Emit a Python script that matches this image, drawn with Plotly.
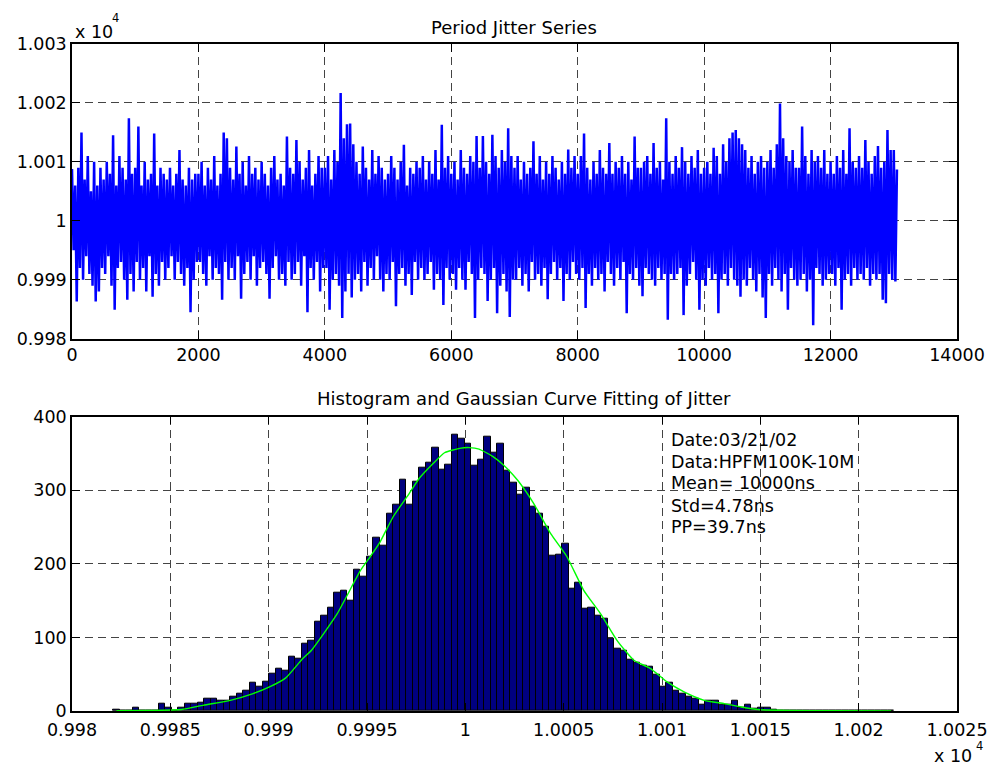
import plotly.graph_objects as go

# ---------------- data ----------------
NOMINAL_NS = 10000.0
SAMPLE_STEP = 25
# period deviation (ns) from nominal (alternating peaks/troughs)
jitter_dev_ns = [
    8.8, -5, 6, -13.7, 9, -8, 15, -10, 7, -6, 11, -9, 5, -11, 10, -13.7, 6, -12, 9, -8,
    7, -9, 10, -6, 8, -11, 14.5, -15.1, 6, -8, 11, -7, 9, -10, 7, -13.4, 17.4, -9, 8, -12,
    9, -7, 16, -10, 6, -8, 10, -12, 7, -6, 8, -12.9, 14.8, -9, 6, -11, 9, -7, 8, -10,
    7, -8, 9, -6, 6, -10, 8, -7, 12, -9, 7, -11, 6, -8, 9, -15.5, 7, -10, 8, -7,
    8, -7, 10, -9, 6, -11, 9, -6, 7, -10, 11, -8, 6, -9, 8, -13.4, 15, -7, 14, -10,
    9, -8, 7, -10, 12.6, -6, 8, -13.2, 10, -9, 6, -7, 11, -10, 8, -6, 9, -11, 7, -8,
    10, -7, 8, -9, 6, -13.2, 9, -8, 11, -6, 7, -10, 8, -9, 6, -11, 14.3, -7, 9, -10,
    8, -9, 13.7, -7, 10, -11, 7, -6, 9, -15.5, 12, -8, 6, -10, 8, -7, 11, -12, 9, -8,
    9, -8, 11, -15.1, 7, -10, 12, -9, 10, -11, 21.7, -16.5, 14, -12, 16.4, -9, 16.5, -13, 13, -10,
    10, -9, 8, -12, 12.6, -7, 9, -11, 7, -8, 12, -10, 8, -6, 11, -10, 9, -12, 7, -9,
    8, -10, 11, -7, 9, -14.5, 7, -9, 10, -8, 12.9, -11, 6, -9, 9, -12.6, 8, -7, 10, -10,
    9, -8, 11, -10, 7, -9, 10, -7, 8, -11.7, 12, -9, 7, -10, 16.3, -14.3, 9, -8, 11, -10,
    8, -9, 10, -11.7, 7, -8, 12, -10, 9, -11.7, 8, -7, 11, -9, 10, -16.5, 14.4, -10, 9, -8,
    14.4, -9, 10, -13.6, 8, -10, 14.6, -8, 11, -15.7, 9, -11, 12, -9, 10, -12, 15.7, -16.3, 11, -10,
    9, -10, 11, -8, 7, -11, 10, -9, 8, -12, 9, -7, 13.5, -10, 8, -9, 11, -11, 7, -8,
    10, -13.3, 8, -9, 11, -7, 9, -10, 7, -8, 10, -13.6, 8, -9, 12.1, -10, 9, -7, 11, -9,
    8, -10, 11, -8, 14.8, -14.8, 9, -9, 7, -11, 10, -8, 8, -10, 12, -9, 9, -12, 8, -7,
    13.2, -9, 8, -11, 10, -8, 9, -10, 11, -7, 8, -15.7, 10, -9, 7, -10, 14.3, -8, 9, -11,
    9, -12.8, 10, -8, 11, -9, 8, -10, 13.2, -11, 9, -8, 10, -10, 7, -9, 17.4, -16.8, 10, -9,
    8, -10, 11, -9, 9, -8, 12.5, -16, 10, -11, 8, -9, 11, -7, 9, -10, 12, -15.1, 8, -10,
    9, -11, 10, -8, 8, -10, 12.4, -9, 11, -15.7, 8, -10, 13, -9, 10, -11, 14, -8, 15, -10,
    15.4, -11, 14, -12.9, 13, -10, 12, -11, 9, -8, 11, -10, 8, -12, 10, -9, 11, -13, 9, -16.5,
    10, -9, 12, -11, 9, -8, 13, -10, 19.9, -12, 14, -9, 11, -15.1, 10, -8, 12, -10, 9, -11,
    9, -10, 16, -9, 11, -12, 8, -10, 12, -17.7, 10, -8, 11, -9, 9, -11, 12, -10, 8, -9,
    10, -9, 8, -11, 11, -8, 9, -15.1, 12, -10, 8, -9, 15.7, -11, 10, -8, 9, -10, 11, -9,
    9, -10, 13.7, -8, 10, -11, 8, -9, 11, -10, 12.7, -9, 9, -13.4, 10, -14, 15.4, -9, 12, -10,
    12, -10.3, 8.7,
]
period_ns = [NOMINAL_NS + d for d in jitter_dev_ns]
sample_idx = [i * SAMPLE_STEP for i in range(len(period_ns))]

# histogram (120 bins)
HIST_START_NS = 9982.09
HIST_BIN_NS = 0.331
hist_counts = [
    2, 0, 1, 5, 1, 1, 1, 10, 5, 1, 5, 10, 10, 11, 17, 17, 14, 14, 19, 24,
    28, 39, 33, 40, 51, 58, 55, 74, 71, 92, 95, 121, 129, 141, 161, 164, 150, 192, 183, 210,
    236, 224, 268, 280, 315, 280, 312, 331, 338, 358, 328, 335, 375, 370, 363, 333, 342, 373, 351, 363,
    326, 310, 294, 303, 278, 268, 250, 211, 213, 227, 166, 174, 139, 141, 130, 125, 98, 85, 82, 70,
    65, 61, 60, 49, 33, 39, 27, 24, 20, 17, 9, 14, 14, 9, 9, 14, 5, 9, 3, 5,
    5, 2, 1, 1, 0, 1, 0, 1, 0, 0, 1, 0, 0, 0, 0, 0, 0, 0, 0, 1,
]
bin_centers = [HIST_START_NS + HIST_BIN_NS * (i + 0.5) for i in range(len(hist_counts))]

# Gaussian fit curve
fit_x_ns = [9982.26, 9983.91, 9985.57, 9986.70, 9988.05, 9989.21, 9990.07, 9990.87, 9991.69, 9992.19,
            9993.48, 9994.67, 9995.17, 9995.67, 9996.33, 9997.16, 9997.65, 9998.35, 9998.94, 9999.71,
            10000.20, 10000.70, 10001.39, 10001.95, 10002.65, 10003.48, 10004.34, 10005.16, 10006.02,
            10006.88, 10007.71, 10008.57, 10009.40, 10010.26, 10011.12, 10012.15, 10013.17, 10014.03,
            10014.89, 10016.35, 10018.67, 10021.65]
fit_counts = [0.3, 0.8, 2, 8, 14.5, 23.6, 33, 45, 70, 83,
              132, 191, 210, 230, 264, 296, 316, 336, 351, 357,
              358, 356, 346, 334, 314, 282, 241, 210, 164,
              132, 96, 69, 58, 39.5, 26, 14.5, 10, 5.5,
              2, 0.8, 0.3, 0.1]

top_xticks = [0, 2000, 4000, 6000, 8000, 10000, 12000, 14000]
top_yticks = [9980, 9990, 10000, 10010, 10020, 10030]
top_ytext = ["0.998", "0.999", "1", "1.001", "1.002", "1.003"]
bot_xticks = [9980, 9985, 9990, 9995, 10000, 10005, 10010, 10015, 10020, 10025]
bot_xtext = ["0.998", "0.9985", "0.999", "0.9995", "1", "1.0005", "1.001", "1.0015", "1.002", "1.0025"]
bot_yticks = [0, 100, 200, 300, 400]
info_lines = ["Date:03/21/02", "Data:HPFM100K-10M", "Mean= 10000ns", "Std=4.78ns", "PP=39.7ns"]
title_top = "Period Jitter Series"
title_bot = "Histogram and Gaussian Curve Fitting of Jitter"

# ---------------- figure ----------------
FONT = "DejaVu Sans"
FS = 17.5
W, H = 1001, 772
ML, MR, MT, MB = 72, 44, 44, 61
PW, PH = W - ML - MR, H - MT - MB


def px_x(px):
    return (px - ML) / PW


def px_y(py):
    return (H - MB - py) / PH


fig = go.Figure()
fig.add_trace(go.Scatter(x=sample_idx, y=period_ns, mode="lines",
                         line=dict(color="#0000ff", width=2.5), xaxis="x", yaxis="y",
                         showlegend=False, hoverinfo="skip"))
fig.add_trace(go.Bar(x=bin_centers, y=hist_counts, width=HIST_BIN_NS,
                     marker=dict(color="#000080", line=dict(color="black", width=1)),
                     xaxis="x2", yaxis="y2", showlegend=False))
fig.add_trace(go.Scatter(x=fit_x_ns, y=fit_counts, mode="lines",
                         line=dict(color="#00ff00", width=1.4, shape="spline", smoothing=0.5),
                         xaxis="x2", yaxis="y2", showlegend=False))

axis_common = dict(showline=True, linecolor="black", linewidth=1.5, mirror="allticks",
                   ticks="inside", ticklen=8, tickcolor="black", tickwidth=1,
                   showgrid=True, gridcolor="#444444", gridwidth=1, griddash="8px,5px",
                   zeroline=False, tickfont=dict(family=FONT, size=FS, color="black"))

top_dom = [px_y(338.7), 1.0]
bot_dom = [0.0, px_y(416.7)]

fig.update_layout(
    width=W, height=H,
    margin=dict(l=ML, r=MR, t=MT, b=MB),
    paper_bgcolor="white", plot_bgcolor="white",
    bargap=0,
    xaxis=dict(axis_common, domain=[0, 1], anchor="y", range=[0, 14000],
               tickmode="array", tickvals=top_xticks, ticktext=[str(v) for v in top_xticks]),
    yaxis=dict(axis_common, domain=top_dom, anchor="x", range=[9980, 10030],
               tickmode="array", tickvals=top_yticks, ticktext=top_ytext),
    xaxis2=dict(axis_common, domain=[0, 1], anchor="y2", range=[9980, 10025],
                tickmode="array", tickvals=bot_xticks, ticktext=bot_xtext,
                ticklabelstandoff=2),
    yaxis2=dict(axis_common, domain=bot_dom, anchor="x2", range=[0, 400],
                tickmode="array", tickvals=bot_yticks, ticktext=[str(v) for v in bot_yticks]),
)

ann = []
ann.append(dict(text=title_top, x=px_x(514), y=px_y(27), xref="paper", yref="paper",
                xanchor="center", yanchor="middle", showarrow=False,
                font=dict(family=FONT, size=18, color="black")))
ann.append(dict(text=title_bot, x=px_x(523.5), y=px_y(398), xref="paper", yref="paper",
                xanchor="center", yanchor="middle", showarrow=False,
                font=dict(family=FONT, size=18, color="black")))
# exponent labels
ann.append(dict(text="x 10", x=px_x(72.5), y=px_y(31.7), xref="paper", yref="paper",
                xanchor="left", yanchor="middle", showarrow=False,
                font=dict(family=FONT, size=FS, color="black")))
ann.append(dict(text="4", x=px_x(110), y=px_y(17.5), xref="paper", yref="paper",
                xanchor="left", yanchor="middle", showarrow=False,
                font=dict(family=FONT, size=11.5, color="black")))
ann.append(dict(text="x 10", x=px_x(931.5), y=px_y(756), xref="paper", yref="paper",
                xanchor="left", yanchor="middle", showarrow=False,
                font=dict(family=FONT, size=FS, color="black")))
ann.append(dict(text="4", x=px_x(973.5), y=px_y(746), xref="paper", yref="paper",
                xanchor="left", yanchor="middle", showarrow=False,
                font=dict(family=FONT, size=11.5, color="black")))
for line, py in zip(info_lines, [440, 461.7, 483.3, 506, 527.3]):
    ann.append(dict(text=line, x=px_x(669), y=px_y(py), xref="paper", yref="paper",
                    xanchor="left", yanchor="middle", showarrow=False,
                    font=dict(family=FONT, size=FS, color="black")))
fig.update_layout(annotations=ann)

fig.write_html("out.html", config={"displayModeBar": False})

# remove the browser's default page margin so the figure sits at the window origin
with open("out.html", "r", encoding="utf-8") as f:
    html = f.read()
html = html.replace("<head>", "<head><style>html,body{margin:0;padding:0;overflow:hidden;}</style>", 1)
with open("out.html", "w", encoding="utf-8") as f:
    f.write(html)
